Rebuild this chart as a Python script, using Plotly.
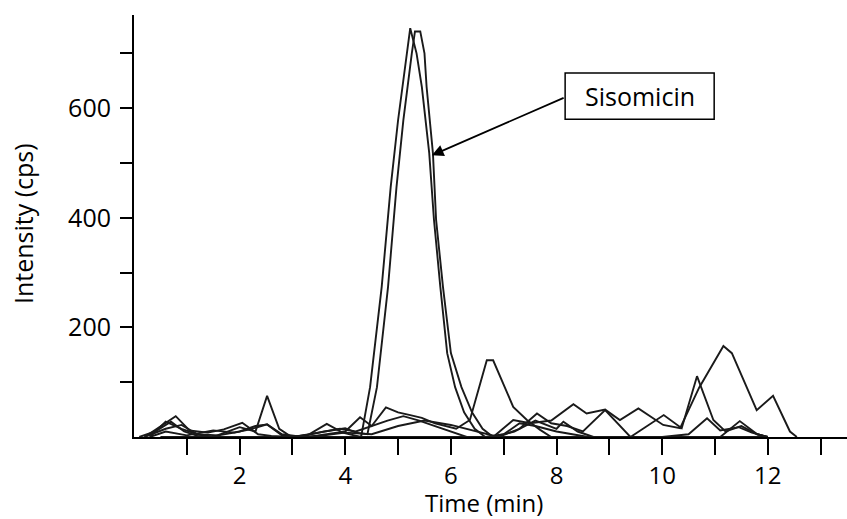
import plotly.graph_objects as go

# Time (min) / intensity (cps) for each overlaid chromatogram trace
t1 = [0.2, 0.5, 0.79, 1.05, 1.4, 1.7, 2.05, 2.35, 2.6, 3.0, 3.3, 3.65, 3.95, 4.3,
      4.47, 4.69, 4.86, 5.0, 5.16, 5.23, 5.35, 5.45, 5.59, 5.68, 5.8, 5.93, 6.08,
      6.25, 6.45, 6.65, 7.0, 7.3, 7.6, 8.0, 8.3, 8.6, 9.0, 9.5, 10.0, 10.5, 11.0,
      11.5, 12.0]
v1 = [0, 20, 38, 12, 8, 14, 26, 5, 2, 0, 4, 24, 8, 0,
      91, 274, 456, 578, 700, 746, 700, 639, 518, 396, 274, 153, 91,
      45, 15, 0, 5, 25, 20, 10, 5, 0, 0, 0, 0, 0, 0,
      0, 0]

t2 = [0.3, 0.6, 0.9, 1.2, 1.6, 2.0, 2.3, 2.52, 2.8, 3.1, 3.6, 4.0, 4.2, 4.42,
      4.6, 4.81, 4.97, 5.1, 5.26, 5.32, 5.42, 5.5, 5.54, 5.66, 5.72, 5.85, 6.0,
      6.2, 6.4, 6.6, 6.8, 7.2, 7.6, 8.0, 8.13, 8.4, 8.7, 9.5, 10.5, 11.1, 11.47,
      11.8, 12.0]
v2 = [0, 28, 15, 5, 3, 10, 20, 23, 3, 0, 10, 16, 8, 5,
      91, 274, 456, 578, 700, 740, 740, 700, 639, 518, 396, 274, 153,
      91, 45, 15, 0, 10, 30, 15, 28, 10, 0, 0, 0, 0, 29,
      5, 0]

t3 = [0.1, 0.4, 0.7, 0.95, 1.2, 1.5, 2.0, 2.3, 2.52, 2.75, 2.95, 3.3, 3.65, 4.0,
      4.28, 4.5, 4.77, 5.0, 5.23, 5.45, 5.7, 5.92, 6.1, 6.36, 6.5, 6.68, 6.8,
      6.99, 7.18, 7.44, 7.69, 7.9, 8.5, 9.5, 10.5, 11.5, 12.0]
v3 = [0, 10, 28, 10, 2, 0, 18, 10, 75, 15, 2, 0, 5, 10,
      36, 20, 54, 45, 40, 35, 25, 19, 15, 31, 80, 140, 140,
      98, 55, 31, 13, 0, 0, 0, 0, 0, 0]

t4 = [0.2, 0.6, 0.9, 1.2, 1.5, 3.0, 3.5, 3.9, 4.2, 4.5, 4.8, 5.1, 5.4, 5.7, 6.0,
      6.3, 6.8, 7.18, 7.5, 7.9, 8.32, 8.57, 8.92, 9.2, 9.55, 10.02, 10.34, 10.7,
      11.16, 11.32, 11.79, 12.1, 12.42, 12.55]
v4 = [0, 15, 22, 5, 0, 0, 8, 15, 10, 20, 30, 38, 30, 20, 10,
      0, 0, 31, 25, 30, 60, 43, 50, 31, 52, 22, 16, 90,
      166, 153, 49, 75, 10, 0]

t5 = [0.3, 0.6, 1.0, 1.5, 1.9, 2.2, 2.52, 2.8, 3.2, 3.6, 4.0, 4.5, 5.0, 5.5,
      6.0, 6.5, 6.9, 7.3, 7.63, 7.9, 8.2, 8.5, 8.92, 9.4, 10.03, 10.37, 10.66,
      10.97, 11.2, 11.5, 11.8, 12.0]
v5 = [0, 10, 3, 12, 8, 14, 23, 5, 0, 3, 8, 5, 20, 30,
      22, 10, 0, 15, 43, 25, 20, 10, 49, 0, 40, 16, 111,
      31, 10, 20, 5, 0]

t6 = [0.5, 1.0, 2.0, 3.0, 4.0, 5.0, 6.0, 7.0, 8.0, 9.0, 10.0, 10.5, 10.85,
      11.1, 11.45, 11.7, 12.0]
v6 = [0, 0, 0, 0, 0, 0, 0, 0, 0, 0, 0, 5, 34, 12, 18, 8, 0]

series = [(t1, v1), (t2, v2), (t3, v3), (t4, v4), (t5, v5), (t6, v6)]

x_tickvals = list(range(1, 14))
x_ticktext = [str(v) if v % 2 == 0 else "" for v in x_tickvals]
y_tickvals = [100, 200, 300, 400, 500, 600, 700]
y_ticktext = [str(v) if v % 200 == 0 else "" for v in y_tickvals]

FONT = "Open Sans"

fig = go.Figure()
for t, v in series:
    fig.add_trace(go.Scatter(x=t, y=v, mode="lines",
                             line=dict(color="#1a1a1a", width=1.9),
                             showlegend=False, hoverinfo="skip"))

fig.update_layout(
    width=847, height=519,
    margin=dict(l=134, r=0, t=15, b=82),
    plot_bgcolor="white", paper_bgcolor="white",
    font=dict(family=FONT, size=24, color="black"),
    xaxis=dict(range=[0, 13.5], showgrid=False, zeroline=False,
               showline=True, linecolor="black", linewidth=2,
               ticks="outside", ticklen=16, tickwidth=2, tickcolor="black",
               tickvals=x_tickvals, ticktext=x_ticktext,
               ticklabelstandoff=0, tickfont=dict(size=24)),
    yaxis=dict(range=[0, 770], showgrid=False, zeroline=False,
               showline=True, linecolor="black", linewidth=2,
               ticks="outside", ticklen=12, tickwidth=2, tickcolor="black",
               tickvals=y_tickvals, ticktext=y_ticktext,
               ticklabelstandoff=4, tickfont=dict(size=25)),
)

# Axis titles
fig.add_annotation(text="Time (min)", xref="paper", yref="paper",
                   x=0.491, y=-0.155, xanchor="center", yanchor="middle",
                   showarrow=False, font=dict(size=24))
fig.add_annotation(text="Intensity (cps)", xref="paper", yref="paper",
                   x=-0.1557, y=0.507, xanchor="center", yanchor="middle",
                   textangle=-90, showarrow=False, font=dict(size=25))

# Label box and arrow
fig.add_shape(type="rect", xref="x", yref="y", x0=8.163, x1=10.985, y0=580, y1=664,
              line=dict(color="black", width=1.5), fillcolor="white")
fig.add_annotation(text="Sisomicin", xref="x", yref="y", x=9.574, y=622,
                   showarrow=False, font=dict(size=25))
fig.add_annotation(text="", x=5.64, y=514, xref="x", yref="y",
                   ax=8.163, ay=620, axref="x", ayref="y",
                   showarrow=True, arrowhead=2, arrowsize=1.3, arrowwidth=1.8,
                   arrowcolor="black")

fig.write_html("out.html", config={"displayModeBar": False},
               post_script="document.body.style.margin='0';document.body.style.padding='0';")
